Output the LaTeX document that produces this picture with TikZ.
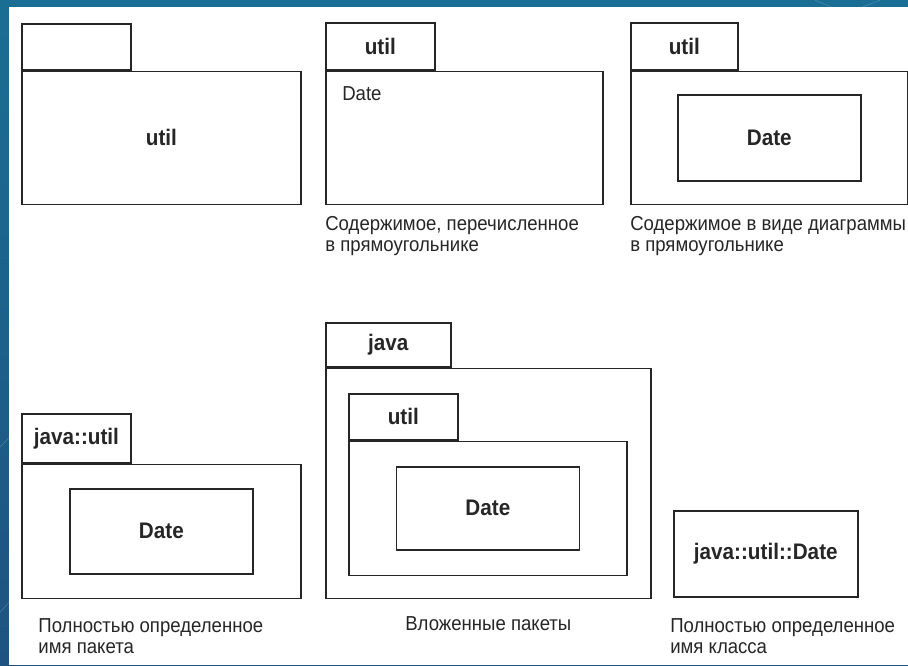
\documentclass[tikz,border=0pt]{standalone}
\usepackage{fontspec}
\setmainfont{Liberation Sans}[FakeStretch=0.92]
\usetikzlibrary{positioning}
\definecolor{slideblue}{HTML}{1B6E93}
\definecolor{slidedark}{HTML}{1E5381}
\definecolor{inkgray}{HTML}{262626}

\begin{document}
\begin{tikzpicture}[x=1pt, y=-1pt,
  every node/.style = {inner sep=0pt, text=inkgray},
  tabbox/.style = {draw=inkgray, line width=1.5pt, anchor=north west,
                   font=\bfseries\fontsize{22.5}{24}\selectfont},
  bodybox/.style = {draw=inkgray, line width=1.5pt, anchor=north west},
  classbox/.style = {draw=inkgray, line width=1.5pt,
                     font=\bfseries\fontsize{22.5}{24}\selectfont},
  pkgname/.style = {font=\bfseries\fontsize{22.5}{24}\selectfont},
  caption/.style = {anchor=north west, align=left,
                    font=\fontsize{20.2}{21}\selectfont}
    ]
  % slide background
  \shade[top color=slideblue, bottom color=slidedark] (0,0) rectangle (908,665);
  \draw[white, opacity=0.25] (0,447) -- (9,437) (0,612) -- (9,602);
  \draw[white, opacity=0.25] (815,0) -- (832,7) (880,0) -- (862,7);
  \fill[white] (9,7) rectangle (908,665);
  \useasboundingbox (0,0) rectangle (908,665);

  % util, name in body
  \node[tabbox, minimum width=109, minimum height=46] (tabA) at (21,23) {};
  \node[bodybox, minimum width=279, minimum height=133] (bodyA) at (tabA.south west) {};
  \node[pkgname] (nameA) at (bodyA.center) {util};

  % util, contents listed
  \node[tabbox, minimum width=109, minimum height=47] (tabB) at (325,22) {util};
  \node[bodybox, minimum width=277, minimum height=133] (bodyB) at (tabB.south west) {};
  \node[anchor=west, font=\fontsize{20.2}{21}\selectfont] (dateB) at (342,93) {Date};
  \node[caption] (capB) at (325,216) {Содержимое, перечисленное\\в прямоугольнике};

  % util, contents drawn
  \node[tabbox, minimum width=107, minimum height=47] (tabC) at (630,22) {util};
  \node[bodybox, minimum width=277, minimum height=133] (bodyC) at (tabC.south west) {};
  \node[classbox, minimum width=183, minimum height=86] (dateC) at (bodyC.center) {Date};
  \node[caption] (capC) at (630,216) {Содержимое в виде диаграммы\\в прямоугольнике};

  % java::util
  \node[tabbox, minimum width=109, minimum height=49] (tabD) at (21,413) {java::util};
  \node[bodybox, minimum width=279, minimum height=134] (bodyD) at (tabD.south west) {};
  \node[classbox, minimum width=183, minimum height=85] (dateD) at (bodyD.center) {Date};
  \node[caption] (capD) at (38,618) {Полностью определенное\\имя пакета};

  % nested packages
  \node[tabbox, minimum width=125, minimum height=44] (tabE) at (325,322) {java};
  \node[bodybox, minimum width=325, minimum height=230] (bodyE) at (tabE.south west) {};
  \node[tabbox, minimum width=109, minimum height=46] (tabF) at (348,393) {util};
  \node[bodybox, minimum width=278, minimum height=134] (bodyF) at (tabF.south west) {};
  \node[classbox, minimum width=183, minimum height=83] (dateF) at (bodyF.center) {Date};
  \node[caption, anchor=north] (capE) at (bodyE.south |- 0,616) {Вложенные пакеты};

  % java::util::Date
  \node[classbox, minimum width=184, minimum height=86, anchor=north west] (dateG) at (673,510) {java::util::Date};
  \node[caption] (capG) at (670,618) {Полностью определенное\\имя класса};
\end{tikzpicture}
\end{document}
